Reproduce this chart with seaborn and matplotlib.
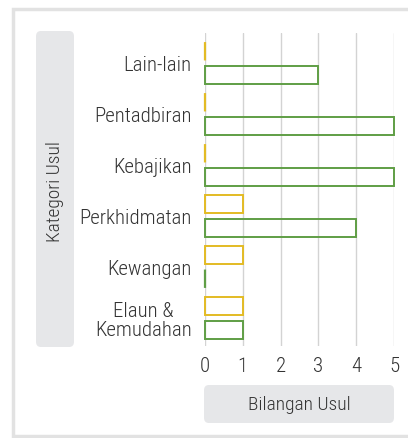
import matplotlib
matplotlib.use("Agg")
import matplotlib.pyplot as plt
from matplotlib.patches import FancyBboxPatch, Rectangle
import seaborn as sns
import pandas as pd

categories = ["Lain-lain", "Pentadbiran", "Kebajikan", "Perkhidmatan", "Kewangan", "Elaun &\nKemudahan"]
series_names = ["Siri 1", "Siri 2"]
series1_values = [0, 0, 0, 1, 1, 1]
series2_values = [3, 5, 5, 4, 0, 1]
x_ticks = [0, 1, 2, 3, 4, 5]
x_label = "Bilangan Usul"
y_label = "Kategori Usul"

df = pd.DataFrame({
    "Kategori": categories * 2,
    "Siri": [series_names[0]] * len(categories) + [series_names[1]] * len(categories),
    "Nilai": series1_values + series2_values,
})

sns.set_theme(style="white")
plt.rcParams["font.family"] = ["Roboto Condensed", "Archivo Narrow", "DejaVu Sans"]
plt.rcParams["font.weight"] = "light"

W, H = 408, 439
fig = plt.figure(figsize=(W / 100, H / 100), dpi=100)
fig.patch.set_facecolor("white")

def fx(px):
    return px / W

def fy(py):
    return 1 - py / H

TXT = "#333333"

# outer panel
panel = Rectangle((fx(13), fy(437)), fx(420) - fx(13), fy(10) - fy(437),
                  transform=fig.transFigure, facecolor="white",
                  edgecolor="#e2e2e2", linewidth=2.5, zorder=-3)
fig.patches.append(panel)

# label boxes
box_l = FancyBboxPatch((fx(36), fy(348)), fx(74) - fx(36), fy(32) - fy(348),
                       boxstyle="round,pad=0,rounding_size=0.012",
                       transform=fig.transFigure, facecolor="#e6e7e9",
                       edgecolor="none", zorder=-2)
fig.patches.append(box_l)
box_b = FancyBboxPatch((fx(204), fy(424)), fx(394) - fx(204), fy(386) - fy(424),
                       boxstyle="round,pad=0,rounding_size=0.012",
                       transform=fig.transFigure, facecolor="#e6e7e9",
                       edgecolor="none", zorder=-2)
fig.patches.append(box_b)

fig.text(fx(55), fy(192), y_label, rotation=90, ha="center", va="center",
         fontsize=14, color=TXT)
fig.text(fx(299), fy(405), x_label, ha="center", va="center",
         fontsize=14, color=TXT)

ax = fig.add_axes([fx(205), fy(347), fx(394) - fx(205), fy(34) - fy(347)])
ax.set_facecolor("none")

sns.barplot(data=df, y="Kategori", x="Nilai", hue="Siri", hue_order=series_names,
            order=categories, orient="h", width=0.92, gap=0.217,
            fill=False, palette=["#e3bb24", "#5f9e45"], linewidth=1.4,
            legend=False, ax=ax, errorbar=None)

for p in ax.patches:
    if p.get_width() == 0:
        p.set_snap(False)
        p.set_linewidth(1.6)
    p.set_clip_on(False)

ax.set_xlim(0, 5)
ax.set_ylim(5.549, -0.588)
ax.set_xticks(x_ticks)
ax.set_xticklabels([str(t) for t in x_ticks])
ax.grid(axis="x", color="#d3d3d3", linewidth=1)
ax.set_axisbelow(True)
for s in ax.spines.values():
    s.set_visible(False)
ax.tick_params(axis="x", length=0, labelsize=15, colors=TXT, pad=7)
ax.tick_params(axis="y", length=0, labelsize=15, colors=TXT, pad=9.5)
for lbl in ax.get_yticklabels():
    lbl.set_multialignment("center")
    lbl.set_linespacing(1.0)
ax.set_xlabel("")
ax.set_ylabel("")

fig.savefig("out.png", dpi=100)
